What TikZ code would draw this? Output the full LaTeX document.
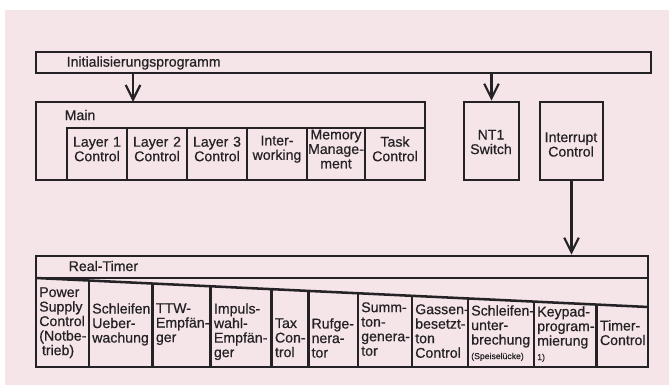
\documentclass[tikz,border=0pt]{standalone}
\usepackage{fontspec}
\setmainfont{Liberation Sans}[FakeBold=0.6]
\usetikzlibrary{arrows.meta,fit}
\definecolor{paper}{RGB}{245,229,232}
\definecolor{ink}{RGB}{36,34,36}

\begin{document}
\begin{tikzpicture}[x=0.75pt, y=-0.75pt,
    every node/.style={font=\fontsize{10.6}{10.9}\selectfont, text=ink},
    box/.style={draw=ink, line width=1.9pt, inner sep=0pt},
    rule/.style={draw=ink, line width=1.9pt},
    arr/.style={draw=ink, line width=1.6pt,
        -{Straight Barb[length=11pt, width=11pt, line width=1.6pt]}},
    celltext/.style={anchor=north west, inner sep=0pt, align=left}
]
    % ===== PAPER =====
    \useasboundingbox (0,0) rectangle (669,385);
    \fill[paper] (5,10) rectangle (669,385);

    % ===== INITIALISIERUNG =====
    \node[box, fit={(36,52) (651,73)}] (init) {};
    \node[anchor=west] (initlbl) at (62,63) {Initialisierungsprogramm};

    % ===== MAIN with its six modules =====
    \node[box, fit={(36,102) (425,180)}] (main) {};
    \node[anchor=west] (mainlbl) at (60,115) {Main};
    \foreach \xa/\xb/\txt/\nm in {
        67/127/{Layer 1\\Control}/layA,
        127/187/{Layer 2\\Control}/layB,
        187/247/{Layer 3\\Control}/layC,
        247/307/{Inter-\\working}/inwk,
        307/365/{Memory\\Manage-\\ment}/memm,
        365/425/{Task\\Control}/task}
        \node[box, fit={(\xa,128) (\xb,180)}, align=center] (\nm) {\txt};

    % ===== NT1 SWITCH / INTERRUPT =====
    \node[box, fit={(464,102) (519,180)}] (nt1) {};
    \node[align=center] (nt1lbl) at (491,142) {NT1\\Switch};
    \node[box, fit={(540,102) (603,180)}] (irq) {};
    \node[align=center] (irqlbl) at (571,144.5) {Interrupt\\Control};

    % ===== REAL-TIMER =====
    \node[box, fit={(36,256) (648,367)}] (rt) {};
    \node[anchor=west] (rtlbl) at (64,266) {Real-Timer};
    \draw[rule] (36,278) -- (648,278);
    % slanted top of the timer cells: y = 278 + (x-36)*29/612
    \draw[rule] (36,278) -- (648,307);
    \foreach \x in {89,152.7,210.7,271.7,308.3,358,412,468,534,596.7}
        \draw[rule] (\x,{278+(\x-36)*29/612}) -- (\x,367);

    % --- cell texts (left edge / centre of first line) ---
    \foreach \xl/\yc/\txt [count=\i] in {
        36/292/{Power\\Supply\\Control\\(Notbe-\\\hspace*{2pt}trieb)},
        89/308/{Schleifen\\Ueber-\\wachung},
        152.7/308/{TTW-\\Empfän-\\ger},
        210.7/308/{Impuls-\\wahl-\\Empfän-\\ger},
        271.7/323/{Tax\\Con-\\trol},
        308.3/323/{Rufge-\\nera-\\tor},
        358/307/{Summ-\\ton-\\genera-\\tor},
        412/309/{Gassen-\\besetzt-\\ton\\Control},
        468/310/{Schleifen-\\unter-\\brechung\\{\fontsize{6.5}{8}\selectfont(Speiselücke)}},
        534/311/{Keypad-\\program-\\mierung\\{\fontsize{6.5}{8}\selectfont 1)}},
        596.7/325/{Timer-\\Control}}
        \node[celltext] (cell\i) at (\xl+3,\yc-5) {\txt};

    % ===== ARROWS =====
    \coordinate (mainin) at (133,102);
    \draw[arr] (init.south -| mainin) -- (mainin);
    \draw[arr] (init.south -| nt1.north) -- (nt1.north);
    \draw[arr] (irq.south) -- (irq.south |- rt.north);

\end{tikzpicture}
\end{document}
